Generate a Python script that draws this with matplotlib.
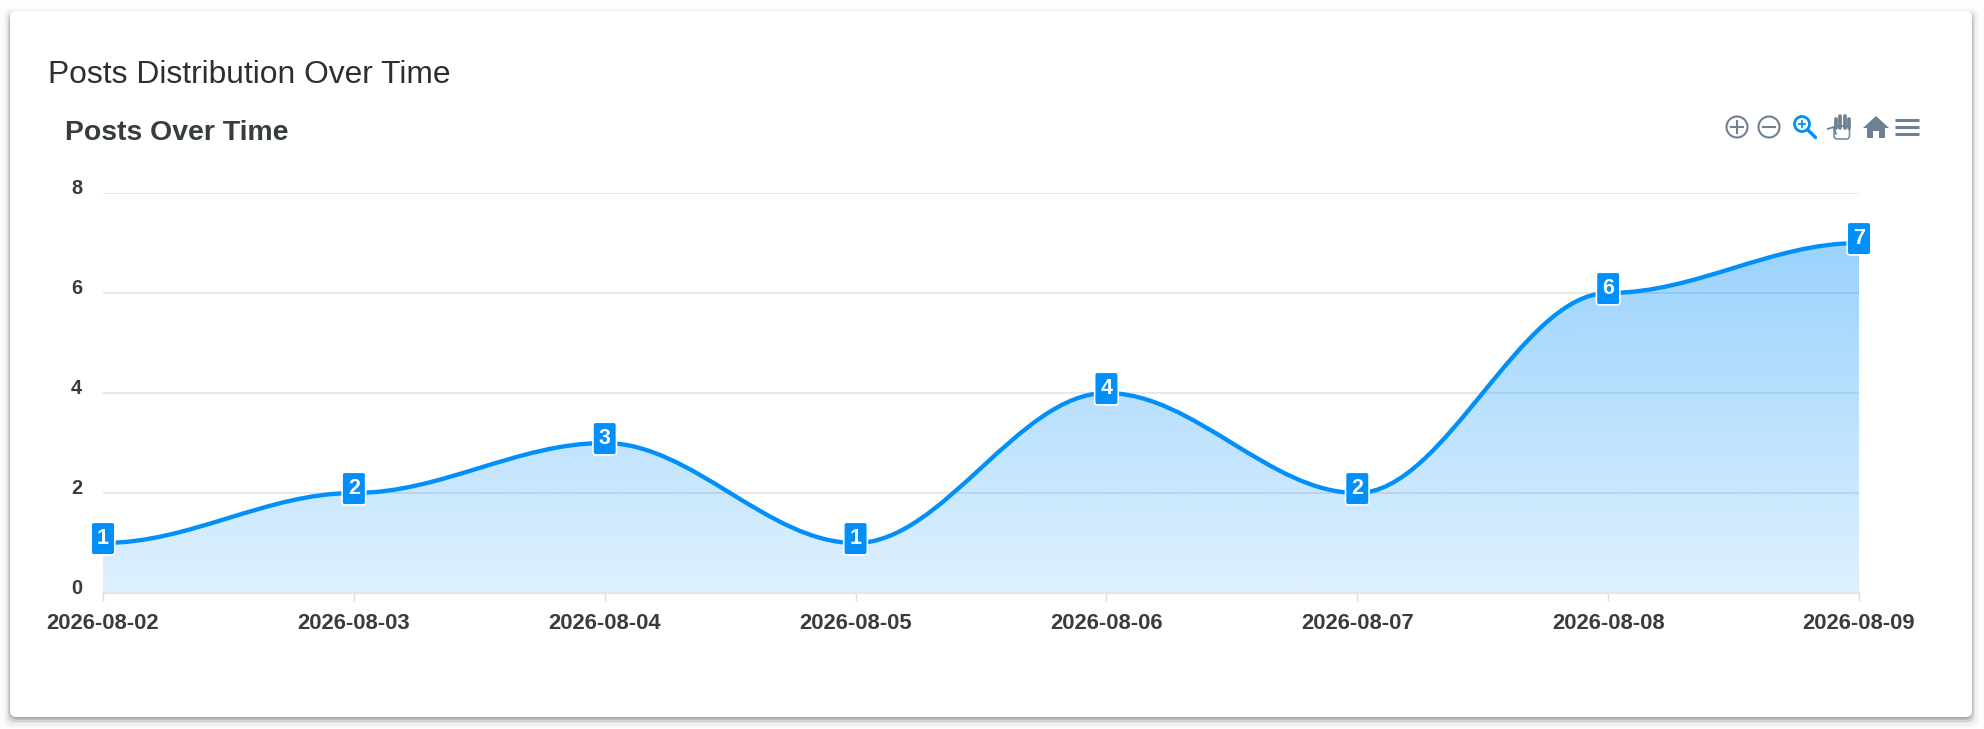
import numpy as np
import matplotlib
matplotlib.use('Agg')
import matplotlib.pyplot as plt
from matplotlib.patches import FancyBboxPatch, Circle, Polygon, PathPatch
from matplotlib.path import Path
from matplotlib.transforms import ScaledTranslation

plt.rcParams['font.family'] = ['Liberation Sans', 'DejaVu Sans']

# data
dates = ['2026-08-02', '2026-08-03', '2026-08-04', '2026-08-05',
         '2026-08-06', '2026-08-07', '2026-08-08', '2026-08-09']
posts = [1, 2, 3, 1, 4, 2, 6, 7]
y_ticks = [0, 2, 4, 6, 8]

BLUE = '#008FFB'
ICON = '#6E8192'
TEXT = '#373D3F'
W, H = 1984, 729

fig = plt.figure(figsize=(W / 100, H / 100), dpi=100, facecolor='#FDFDFD')

# full figure axes in pixels, for the card and the toolbar icons
bg = fig.add_axes([0, 0, 1, 1], zorder=0)
bg.set_xlim(0, W)
bg.set_ylim(H, 0)
bg.axis('off')

# card shadow, then the card
for grow, off, a in [(7, 4, 0.02), (5, 4, 0.03), (3, 3, 0.05), (2, 3, 0.08), (0.5, 2, 0.16)]:
    bg.add_patch(FancyBboxPatch((10 - grow, 11 - grow + off), 1962 + 2 * grow, 706 + 2 * grow,
                                boxstyle='round,pad=0,rounding_size=8', fc='black', ec='none', alpha=a))
bg.add_patch(FancyBboxPatch((10, 11), 1962, 706, boxstyle='round,pad=0,rounding_size=6', fc='white', ec='none'))

bg.text(48, 75, 'Posts Distribution Over Time', fontsize=22.9, color='#2B2F33', va='center', ha='left')
bg.text(65, 133, 'Posts Over Time', fontsize=20.4, fontweight='bold', color=TEXT, va='center', ha='left')

# toolbar icons
bg.add_patch(Circle((1737, 127), 10.5, fc='none', ec=ICON, lw=1.5))
bg.plot([1731, 1743], [127, 127], color=ICON, lw=1.5)
bg.plot([1737, 1737], [121, 133], color=ICON, lw=1.5)
bg.add_patch(Circle((1769, 127), 10.5, fc='none', ec=ICON, lw=1.5))
bg.plot([1763, 1775], [127, 127], color=ICON, lw=1.5)

bg.add_patch(Circle((1802, 124), 7.5, fc='none', ec=BLUE, lw=2.0))
bg.plot([1808, 1815.5], [130, 137.5], color=BLUE, lw=2.4, solid_capstyle='round')
bg.plot([1799, 1805], [124, 124], color=BLUE, lw=1.3)
bg.plot([1802, 1802], [121, 127], color=BLUE, lw=1.3)

# hand
bg.plot([1827.5, 1834, 1836], [129, 127, 134], color=ICON, lw=1.3, solid_capstyle='round')
bg.add_patch(FancyBboxPatch((1834, 126), 15.5, 13, boxstyle='round,pad=0,rounding_size=3', fc='white', ec=ICON, lw=1.1))
for fx, top in [(1835.5, 119), (1840, 116), (1844.5, 116), (1848.5, 119)]:
    bg.plot([fx, fx], [top, 128], color=ICON, lw=2.7, solid_capstyle='round')

# home
bg.add_patch(Polygon([(1863, 128), (1876, 116), (1889, 128), (1885, 128), (1885, 138),
                      (1879, 138), (1879, 131), (1873, 131), (1873, 138), (1867, 138), (1867, 128)],
                     fc=ICON, ec='none'))
# menu
for my in [120, 127, 134]:
    bg.plot([1895, 1919], [my, my], color=ICON, lw=2.2, solid_capstyle='butt')

# chart
ax = fig.add_axes([103 / W, 1 - 593 / H, (1859 - 103) / W, (593 - 193) / H], zorder=1)
ax.patch.set_alpha(0)
x = np.arange(len(dates))

# smooth path through the points, flat tangent at each point
verts = [(x[0], posts[0])]
codes = [Path.MOVETO]
for i in range(1, len(posts)):
    verts += [(x[i - 1] + 0.35, posts[i - 1]), (x[i] - 0.35, posts[i]), (x[i], posts[i])]
    codes += [Path.CURVE4] * 3
line_path = Path(verts, codes)
area_path = Path(verts + [(x[-1], 0), (x[0], 0), (x[0], posts[0])],
                 codes + [Path.LINETO, Path.LINETO, Path.CLOSEPOLY])

# vertical gradient fill
alpha = np.linspace(0.40, 0.13, 256)
rgba = np.zeros((256, 1, 4))
rgba[..., :3] = matplotlib.colors.to_rgb(BLUE)
rgba[:, 0, 3] = alpha
im = ax.imshow(rgba, extent=[x[0], x[-1], 0, max(posts)], origin='upper', aspect='auto', zorder=2)
im.set_clip_path(PathPatch(area_path, transform=ax.transData))

ax.add_patch(PathPatch(line_path, fc='none', ec=BLUE, lw=3.1, zorder=3, clip_on=False, capstyle='butt'))

ax.set_xlim(x[0], x[-1])
ax.set_ylim(0, 8)
ax.set_xticks(x)
ax.set_xticklabels(dates)
ax.set_yticks(y_ticks)
for s in ['top', 'left', 'right']:
    ax.spines[s].set_visible(False)
ax.spines['bottom'].set_color('#E4E4E4')
ax.spines['bottom'].set_linewidth(1.5)
ax.grid(axis='y', color='#E6E6E6', lw=1.3, zorder=1)
ax.set_axisbelow(True)
ax.tick_params(axis='x', length=6, width=1, color='#DDDDDD', pad=8.5, labelsize=15.8, labelcolor=TEXT)
ax.tick_params(axis='y', length=0, pad=15, labelsize=14.4, labelcolor=TEXT)
up = ScaledTranslation(0, 5 / 100, fig.dpi_scale_trans)
for lab in ax.get_xticklabels() + ax.get_yticklabels():
    lab.set_fontweight('bold')
for lab in ax.get_yticklabels():
    lab.set_verticalalignment('center')
    lab.set_transform(lab.get_transform() + up)

# data labels
for xi, v in zip(x, posts):
    ax.annotate(str(v), (xi, v), xytext=(0, 3.2), textcoords='offset points', ha='center', va='center',
                fontsize=15.5, fontweight='bold', color='white', zorder=5, annotation_clip=False,
                bbox=dict(boxstyle='round,pad=0.27,rounding_size=0.12', fc=BLUE, ec='white', lw=1.2))

fig.savefig('out.png', dpi=100, facecolor=fig.get_facecolor())
